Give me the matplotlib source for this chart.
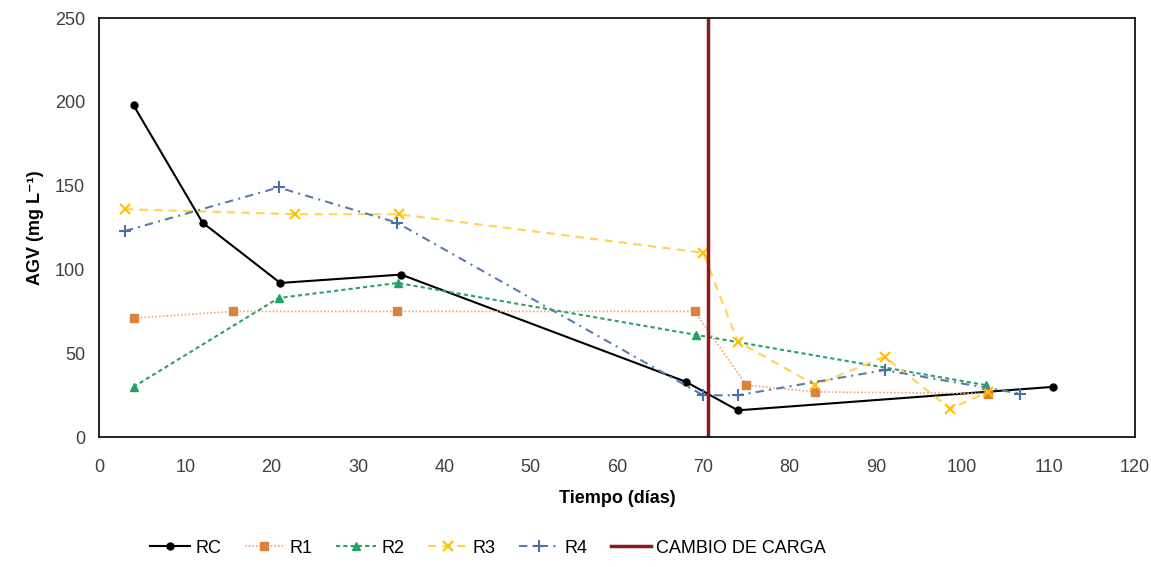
import matplotlib.pyplot as plt

plt.rcParams['font.family'] = ['Liberation Sans', 'DejaVu Sans']

# datos (días, AGV mg/L)
rc_x = [4, 12, 21, 35, 68, 74, 110.5]
rc_y = [198, 128, 92, 97, 33, 16, 30]

r1_x = [4, 15.5, 34.5, 69, 75, 83, 103]
r1_y = [71, 75, 75, 75, 31, 27, 26]

r2_x = [4, 20.8, 34.6, 69.2, 102.8]
r2_y = [30, 83, 92, 61, 31]

r3_x = [3, 22.7, 34.7, 70, 74, 83, 91, 98.6, 103]
r3_y = [136, 133, 133, 110, 57, 31, 48, 17, 27]

r4_x = [3, 20.8, 34.5, 70, 74, 91, 106.7]
r4_y = [123, 149, 128, 25, 25, 40, 26]

cambio = 70.5

fig = plt.figure(figsize=(11.51, 5.67), dpi=100)
ax = fig.add_axes([0.086, 0.229, 0.9, 0.739])

ax.plot(rc_x, rc_y, color='black', lw=1.5, marker='o', ms=5, label='RC')
ax.plot(r1_x, r1_y, color='#F2A773', lw=1.2, ls=(0, (1, 1.2)), marker='s', ms=6,
        mfc='#D9833E', mec='#D9833E', label='R1')
ax.plot(r2_x, r2_y, color='#2E9E6A', lw=1.5, ls=(0, (2, 1.5)), marker='^', ms=6,
        mfc='#21A366', mec='#21A366', label='R2')
ax.plot(r3_x, r3_y, color='#FFD34D', lw=1.5, ls=(0, (4, 3)), marker='x', ms=7,
        mew=1.5, mec='#FFC000', label='R3')
ax.plot(r4_x, r4_y, color='#5B7BA8', lw=1.5, ls=(0, (4, 2.5, 1, 2.5)), marker='+', ms=9,
        mew=1.5, mec='#4A6EA8', label='R4')
ax.axvline(cambio, color='#8B1A1A', lw=2.5, label='CAMBIO DE CARGA')

ax.set_xlim(0, 120)
ax.set_ylim(0, 250)
ax.set_xticks(range(0, 121, 10))
ax.set_yticks(range(0, 251, 50))
ax.tick_params(length=0, labelsize=13, labelcolor='#404040')
ax.tick_params(axis='x', pad=16)
ax.tick_params(axis='y', pad=10)
for s in ax.spines.values():
    s.set_color('black')
    s.set_linewidth(1.2)

ax.set_xlabel('Tiempo (días)', fontsize=13, fontweight='bold', labelpad=10)
ax.set_ylabel('AGV (mg L⁻¹)', fontsize=13, fontweight='bold', labelpad=8)

fig.legend(loc='center', bbox_to_anchor=(0.424, 0.033), ncol=6, frameon=False,
           fontsize=13, handlelength=2.2, columnspacing=1.3, handletextpad=0.3)

fig.savefig('out.png', dpi=100)
